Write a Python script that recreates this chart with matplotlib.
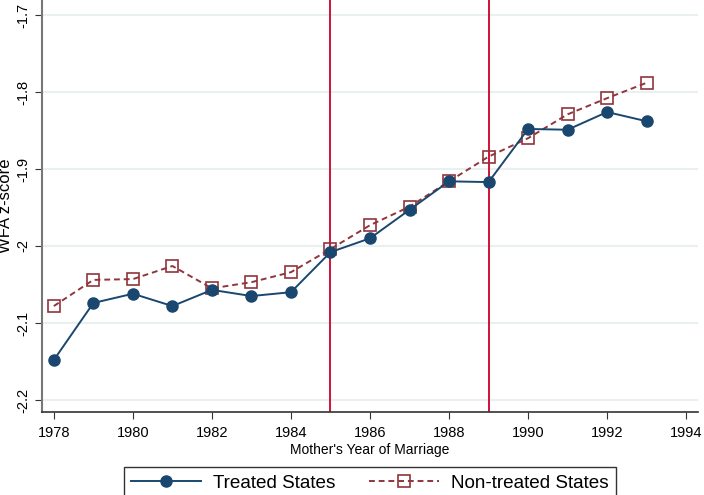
import matplotlib
matplotlib.use("Agg")
import matplotlib.pyplot as plt
import numpy as np

years = [1978, 1979, 1980, 1981, 1982, 1983, 1984, 1985,
         1986, 1987, 1988, 1989, 1990, 1991, 1992, 1993]
treated = [-2.148, -2.074, -2.062, -2.078, -2.057, -2.065, -2.060, -2.008,
           -1.990, -1.953, -1.916, -1.917, -1.848, -1.849, -1.826, -1.838]
non_treated = [-2.078, -2.044, -2.043, -2.026, -2.055, -2.047, -2.034, -2.004,
               -1.973, -1.949, -1.916, -1.884, -1.860, -1.829, -1.808, -1.788]
policy_years = [1985, 1989]
x_ticks = [1978, 1980, 1982, 1984, 1986, 1988, 1990, 1992, 1994]
y_ticks = [-2.2, -2.1, -2.0, -1.9, -1.8, -1.7]
y_labels = ["-2.2", "-2.1", "-2", "-1.9", "-1.8", "-1.7"]

plt.rcParams["font.family"] = ["Liberation Sans", "DejaVu Sans"]

fig = plt.figure(figsize=(7.04, 4.95), dpi=100)
ax = fig.add_axes([42 / 704, 83 / 495, 656 / 704, 412 / 495])

for yv in y_ticks:
    ax.axhline(yv, color="#e8f0f2", lw=1.5, zorder=0)
for yr in policy_years:
    ax.axvline(yr, color="#d0103a", lw=1.4, zorder=1)

ax.plot(years, treated, color="#1a476f", lw=1.4, marker="o", ms=8,
        label="Treated States", zorder=3)
ax.plot(years, non_treated, color="#90353b", lw=1.4, ls=(0, (3, 2)),
        marker="s", ms=8, mfc="none", mew=1.2, label="Non-treated States",
        zorder=2)

ax.set_xlim(1977.7, 1994.3)
ax.set_ylim(-2.2156, -1.6805)
ax.set_xticks(x_ticks)
ax.set_yticks(y_ticks)
ax.set_yticklabels(y_labels, rotation=90, va="center")
ax.tick_params(axis="both", labelsize=10.5, length=5, color="#333333")
ax.tick_params(axis="x", pad=5)
ax.spines["top"].set_visible(False)
ax.spines["right"].set_visible(False)
ax.spines["left"].set_color("#777777")
ax.spines["left"].set_linewidth(1.5)
ax.spines["bottom"].set_color("#333333")
ax.spines["bottom"].set_linewidth(1.2)

ax.set_xlabel("Mother's Year of Marriage", fontsize=10, labelpad=2)
ax.set_ylabel("WFA z-score", fontsize=12, labelpad=2)

leg = ax.legend(loc="upper center", bbox_to_anchor=(0.5, -0.133), ncol=2,
                fontsize=13.6, frameon=True, fancybox=False, edgecolor="black",
                handlelength=3.7, handletextpad=0.65, columnspacing=1.75,
                borderpad=0.4, borderaxespad=0)
leg.get_frame().set_linewidth(1.0)

fig.savefig("out.png", dpi=100)
